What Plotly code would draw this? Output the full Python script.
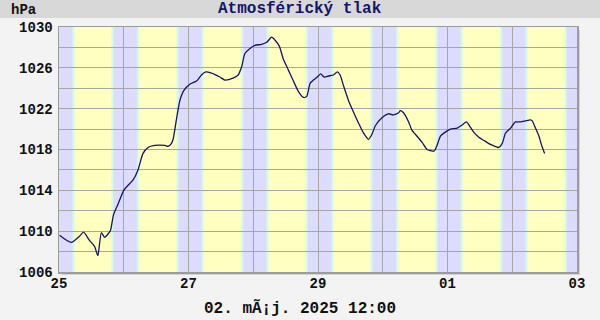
import pandas as pd
import plotly.graph_objects as go

# ---------------- data ----------------
START = "2025-04-25 00:00"
HOURS = [0.2, 4.5, 7.6, 9.1, 11.3, 13.2, 14.4, 15.7, 16.9, 18.1, 19.1, 20.2, 21.8, 24.0,
         25.6, 27.4, 29.3, 31.1, 33.0, 35.5, 39.2, 40.4, 41.7, 42.3, 43.5, 44.8, 46.3,
         48.5, 51.0, 52.8, 54.4, 56.3, 59.6, 61.5, 64.5, 66.4, 67.7, 68.9, 70.8, 72.6,
         75.1, 77.0, 78.8, 80.1, 81.7, 83.1, 85.0, 86.9, 88.7, 90.6, 91.8, 93.1, 94.3,
         96.1, 97.0, 98.3, 99.9, 101.7, 103.2, 104.2, 105.4, 107.3, 109.1, 111.0, 112.9,
         114.7, 116.0, 117.2, 119.7, 122.0, 123.9, 125.9, 126.5, 127.7, 129.6, 130.8,
         132.7, 134.6, 136.4, 137.6, 139.1, 140.1, 141.4, 143.2, 145.1, 147.6, 149.4,
         151.0, 152.2, 153.7, 155.6, 157.4, 159.9, 163.0, 164.3, 165.5, 167.4, 169.2,
         171.1, 172.9, 174.8, 175.4, 176.6, 177.9, 178.9, 180.0]
PRESSURE = [1009.6, 1008.9, 1009.5, 1009.9, 1009.1, 1008.5, 1007.6, 1009.85, 1009.4, 1009.7,
            1010.1, 1011.6, 1012.6, 1014.0, 1014.5, 1015.0, 1016.0, 1017.6, 1018.2, 1018.4,
            1018.4, 1018.3, 1018.6, 1019.0, 1020.9, 1022.8, 1023.8, 1024.4, 1024.7, 1025.3,
            1025.6, 1025.5, 1025.1, 1024.8, 1025.0, 1025.3, 1026.1, 1027.4, 1027.9, 1028.2,
            1028.3, 1028.5, 1029.0, 1028.7, 1028.1, 1026.9, 1025.8, 1024.7, 1023.7, 1023.1,
            1023.2, 1024.5, 1024.8, 1025.2, 1025.4, 1025.1, 1025.2, 1025.3, 1025.6, 1025.3,
            1024.3, 1022.8, 1021.7, 1020.6, 1019.6, 1019.0, 1019.5, 1020.3, 1021.1, 1021.5,
            1021.4, 1021.6, 1021.8, 1021.6, 1020.7, 1019.9, 1019.3, 1018.7, 1018.0, 1017.9,
            1017.85, 1018.4, 1019.3, 1019.7, 1020.0, 1020.1, 1020.4, 1020.7, 1020.3, 1019.7,
            1019.2, 1018.9, 1018.5, 1018.2, 1018.6, 1019.6, 1020.1, 1020.7, 1020.7, 1020.8,
            1020.9, 1020.8, 1020.1, 1019.3, 1018.4, 1017.6]
X_TICKS = ["2025-04-25", "2025-04-27", "2025-04-29", "2025-05-01", "2025-05-03"]
X_TICK_LABELS = ["25", "27", "29", "01", "03"]
Y_TICKS = [1006, 1010, 1014, 1018, 1022, 1026, 1030]
SUNRISE_H = 5.35
SUNSET_H = 19.85
TITLE = "Atmosférický tlak"
UNIT = "hPa"
STAMP = "02. mÃ¡j. 2025 12:00"

# ---------------- figure ----------------
t0 = pd.Timestamp(START)
times = [t0 + pd.Timedelta(hours=h) for h in HOURS]

W, H = 600, 320
L, R, T, B = 59, 577, 27, 272
def px(x): return (x - L) / (R - L)
def py(y): return (B - y) / (B - T)

FONT = "Liberation Mono, Courier New, monospace"
LAV = "#DCDCFF"
YEL = "#FFFFC0"
TW = ["#D2E6FF", "#CCFCF6", "#D8FFDC"]  # night -> day transition colours

shapes = []
shapes.append(dict(type="rect", xref="paper", yref="paper", x0=px(0), x1=px(W),
                   y0=py(18), y1=py(0), fillcolor="#D8D8D8", line_width=0, layer="below"))
shapes.append(dict(type="rect", xref="paper", yref="paper", x0=px(L + 3), x1=px(R + 3),
                   y0=py(B + 3), y1=py(T + 3), fillcolor="#D4D4D4", line_width=0, layer="below"))
shapes.append(dict(type="rect", xref="paper", yref="paper", x0=0, x1=1, y0=0, y1=1,
                   fillcolor=YEL, line_width=0, layer="below"))

step = 0.3
for d in range(-1, 9):
    day = t0 + pd.Timedelta(days=d)
    sset = day + pd.Timedelta(hours=SUNSET_H)
    srise = day + pd.Timedelta(hours=24 + SUNRISE_H)
    shapes.append(dict(type="rect", xref="x", yref="paper",
                       x0=sset + pd.Timedelta(hours=step * 1.5), x1=srise - pd.Timedelta(hours=step * 1.5),
                       y0=0, y1=1, fillcolor=LAV, line_width=0, layer="below"))
    for i, c in enumerate(TW):
        a = srise + pd.Timedelta(hours=(i - 1.5) * step)
        shapes.append(dict(type="rect", xref="x", yref="paper", x0=a, x1=a + pd.Timedelta(hours=step),
                           y0=0, y1=1, fillcolor=c, line_width=0, layer="below"))
        b = sset + pd.Timedelta(hours=(0.5 - i) * step)
        shapes.append(dict(type="rect", xref="x", yref="paper", x0=b, x1=b + pd.Timedelta(hours=step),
                           y0=0, y1=1, fillcolor=c, line_width=0, layer="below"))

fig = go.Figure()
fig.add_trace(go.Scatter(x=times, y=PRESSURE, mode="lines",
                         line=dict(color="#141464", width=1.3, shape="spline", smoothing=0.6),
                         hoverinfo="skip", showlegend=False))

tickfont = dict(family=FONT, size=14, color="#111111", weight="bold")
GRID = "#A6A6A6"
fig.update_layout(
    width=W, height=H,
    margin=dict(l=L, r=W - R, t=T, b=H - B, pad=0),
    paper_bgcolor="#F3F3F3",
    plot_bgcolor="rgba(0,0,0,0)",
    shapes=shapes,
    xaxis=dict(range=[t0, t0 + pd.Timedelta(days=8)], tickmode="array",
               tickvals=X_TICKS, ticktext=X_TICK_LABELS, tickfont=tickfont,
               showgrid=True, gridcolor=GRID, gridwidth=1,
               minor=dict(showgrid=True, gridcolor=GRID, gridwidth=1, dtick=86400000,
                          tick0="2025-04-25"),
               showline=True, mirror=True, linecolor="#9C9C9C", linewidth=1.5,
               ticks="", zeroline=False, fixedrange=True, ticklabelstandoff=-2),
    yaxis=dict(range=[1006, 1030], tickmode="array", tickvals=Y_TICKS, tickfont=tickfont,
               showgrid=True, gridcolor=GRID, gridwidth=1,
               minor=dict(showgrid=True, gridcolor=GRID, gridwidth=1, dtick=2, tick0=1006),
               showline=True, mirror=True, linecolor="#9C9C9C", linewidth=1.5,
               ticks="", zeroline=False, fixedrange=True, ticklabelstandoff=2),
    annotations=[
        dict(text=UNIT, xref="paper", yref="paper", x=px(9), y=py(10), xanchor="left",
             yanchor="middle", showarrow=False,
             font=dict(family=FONT, size=14, color="#111111", weight="bold")),
        dict(text=TITLE, xref="paper", yref="paper", x=px(300), y=py(9), xanchor="center",
             yanchor="middle", showarrow=False,
             font=dict(family=FONT, size=16, color="#14146E", weight="bold")),
        dict(text=STAMP, xref="paper", yref="paper", x=px(300), y=py(308), xanchor="center",
             yanchor="middle", showarrow=False,
             font=dict(family=FONT, size=16, color="#111111", weight="bold")),
    ],
)

fig.write_html("out.html", config={"displayModeBar": False, "staticPlot": True},
               post_script="document.body.style.margin='0';document.body.style.padding='0';")
